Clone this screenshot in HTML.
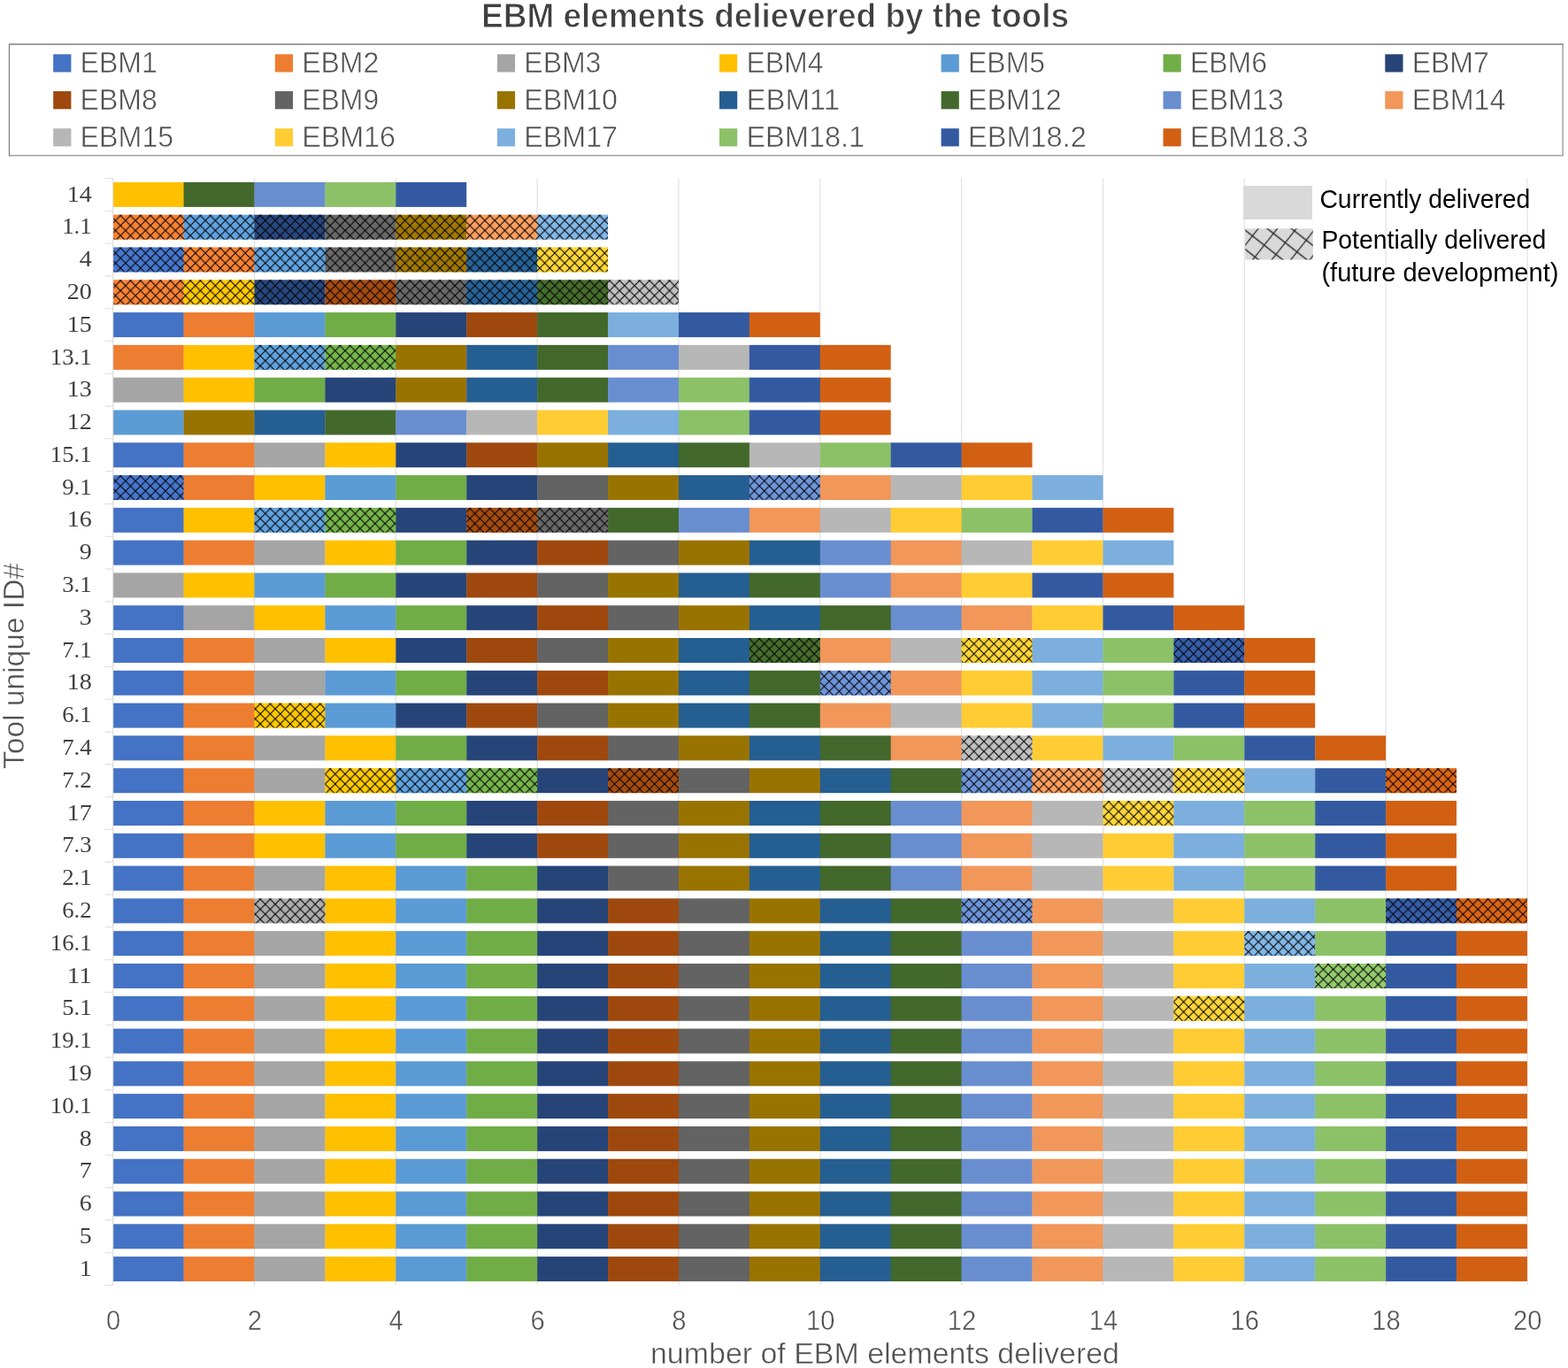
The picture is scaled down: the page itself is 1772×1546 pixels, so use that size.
<!DOCTYPE html>
<html lang="en"><head><meta charset="utf-8">
<title>EBM elements delievered by the tools</title>
<style>
html,body{margin:0;padding:0;background:#fff;}
body{width:1772px;height:1546px;overflow:hidden;}
svg{display:block;}
text{font-family:'Liberation Sans', Arial, sans-serif;}
.ser{font-family:'Liberation Serif', 'Times New Roman', serif;}
</style></head><body>
<svg width="1772" height="1546" viewBox="0 0 1772 1546">
<defs>
<pattern id="hx" patternUnits="userSpaceOnUse" width="11.28" height="11.28" patternTransform="translate(8.54 0.9)">
<path d="M0 0L11.28 11.28M11.28 0L0 11.28" stroke="#000" stroke-width="1.1" stroke-linecap="square" fill="none"/>
</pattern>
<pattern id="hx2" patternUnits="userSpaceOnUse" width="16.9" height="16.9" patternTransform="translate(1428.7 277.1) rotate(38.2) translate(-8.45 -8.45)">
<path d="M0 8.45H16.9M8.45 0V16.9" stroke="#2b2b2b" stroke-width="1.3" fill="none"/>
</pattern>
</defs>
<rect width="1772" height="1546" fill="#fff"/>
<text x="876" y="31.1" text-anchor="middle" font-size="39" font-weight="700" fill="#404040" stroke="#fff" stroke-width="0.9" textLength="664" lengthAdjust="spacingAndGlyphs">EBM elements delievered by the tools</text>
<path d="M10.5 175.8H1766.1V50" fill="none" stroke="#A3A3A3" stroke-width="1.5"/>
<path d="M10.5 176.4V50H1766.8" fill="none" stroke="#7F7F7F" stroke-width="1.3"/>
<rect x="60.2" y="61.3" width="20.2" height="20.2" fill="#4472C4"/>
<text x="90.6" y="82.0" font-size="34" fill="#505050" stroke="#fff" stroke-width="0.55" textLength="87.1" lengthAdjust="spacingAndGlyphs">EBM1</text>
<rect x="310.8" y="61.3" width="20.2" height="20.2" fill="#ED7D31"/>
<text x="341.2" y="82.0" font-size="34" fill="#505050" stroke="#fff" stroke-width="0.55" textLength="87.1" lengthAdjust="spacingAndGlyphs">EBM2</text>
<rect x="561.9" y="61.3" width="20.2" height="20.2" fill="#A5A5A5"/>
<text x="592.3" y="82.0" font-size="34" fill="#505050" stroke="#fff" stroke-width="0.55" textLength="87.1" lengthAdjust="spacingAndGlyphs">EBM3</text>
<rect x="813.0" y="61.3" width="20.2" height="20.2" fill="#FFC000"/>
<text x="843.4" y="82.0" font-size="34" fill="#505050" stroke="#fff" stroke-width="0.55" textLength="87.1" lengthAdjust="spacingAndGlyphs">EBM4</text>
<rect x="1063.6" y="61.3" width="20.2" height="20.2" fill="#5B9BD5"/>
<text x="1094.0" y="82.0" font-size="34" fill="#505050" stroke="#fff" stroke-width="0.55" textLength="87.1" lengthAdjust="spacingAndGlyphs">EBM5</text>
<rect x="1314.5" y="61.3" width="20.2" height="20.2" fill="#70AD47"/>
<text x="1344.9" y="82.0" font-size="34" fill="#505050" stroke="#fff" stroke-width="0.55" textLength="87.1" lengthAdjust="spacingAndGlyphs">EBM6</text>
<rect x="1565.3" y="61.3" width="20.2" height="20.2" fill="#264478"/>
<text x="1595.7" y="82.0" font-size="34" fill="#505050" stroke="#fff" stroke-width="0.55" textLength="87.1" lengthAdjust="spacingAndGlyphs">EBM7</text>
<rect x="60.2" y="103.1" width="20.2" height="20.2" fill="#9E480E"/>
<text x="90.6" y="123.8" font-size="34" fill="#505050" stroke="#fff" stroke-width="0.55" textLength="87.1" lengthAdjust="spacingAndGlyphs">EBM8</text>
<rect x="310.8" y="103.1" width="20.2" height="20.2" fill="#636363"/>
<text x="341.2" y="123.8" font-size="34" fill="#505050" stroke="#fff" stroke-width="0.55" textLength="87.1" lengthAdjust="spacingAndGlyphs">EBM9</text>
<rect x="561.9" y="103.1" width="20.2" height="20.2" fill="#997300"/>
<text x="592.3" y="123.8" font-size="34" fill="#505050" stroke="#fff" stroke-width="0.55" textLength="105.7" lengthAdjust="spacingAndGlyphs">EBM10</text>
<rect x="813.0" y="103.1" width="20.2" height="20.2" fill="#255E91"/>
<text x="843.4" y="123.8" font-size="34" fill="#505050" stroke="#fff" stroke-width="0.55" textLength="105.7" lengthAdjust="spacingAndGlyphs">EBM11</text>
<rect x="1063.6" y="103.1" width="20.2" height="20.2" fill="#43682B"/>
<text x="1094.0" y="123.8" font-size="34" fill="#505050" stroke="#fff" stroke-width="0.55" textLength="105.7" lengthAdjust="spacingAndGlyphs">EBM12</text>
<rect x="1314.5" y="103.1" width="20.2" height="20.2" fill="#698ED0"/>
<text x="1344.9" y="123.8" font-size="34" fill="#505050" stroke="#fff" stroke-width="0.55" textLength="105.7" lengthAdjust="spacingAndGlyphs">EBM13</text>
<rect x="1565.3" y="103.1" width="20.2" height="20.2" fill="#F1975A"/>
<text x="1595.7" y="123.8" font-size="34" fill="#505050" stroke="#fff" stroke-width="0.55" textLength="105.7" lengthAdjust="spacingAndGlyphs">EBM14</text>
<rect x="60.2" y="145.2" width="20.2" height="20.2" fill="#B7B7B7"/>
<text x="90.6" y="165.9" font-size="34" fill="#505050" stroke="#fff" stroke-width="0.55" textLength="105.7" lengthAdjust="spacingAndGlyphs">EBM15</text>
<rect x="310.8" y="145.2" width="20.2" height="20.2" fill="#FFCD33"/>
<text x="341.2" y="165.9" font-size="34" fill="#505050" stroke="#fff" stroke-width="0.55" textLength="105.7" lengthAdjust="spacingAndGlyphs">EBM16</text>
<rect x="561.9" y="145.2" width="20.2" height="20.2" fill="#7CAFDD"/>
<text x="592.3" y="165.9" font-size="34" fill="#505050" stroke="#fff" stroke-width="0.55" textLength="105.7" lengthAdjust="spacingAndGlyphs">EBM17</text>
<rect x="813.0" y="145.2" width="20.2" height="20.2" fill="#8CC168"/>
<text x="843.4" y="165.9" font-size="34" fill="#505050" stroke="#fff" stroke-width="0.55" textLength="133.8" lengthAdjust="spacingAndGlyphs">EBM18.1</text>
<rect x="1063.6" y="145.2" width="20.2" height="20.2" fill="#335AA1"/>
<text x="1094.0" y="165.9" font-size="34" fill="#505050" stroke="#fff" stroke-width="0.55" textLength="133.8" lengthAdjust="spacingAndGlyphs">EBM18.2</text>
<rect x="1314.5" y="145.2" width="20.2" height="20.2" fill="#D26012"/>
<text x="1344.9" y="165.9" font-size="34" fill="#505050" stroke="#fff" stroke-width="0.55" textLength="133.8" lengthAdjust="spacingAndGlyphs">EBM18.3</text>
<line x1="127.65" y1="201.5" x2="127.65" y2="1452.5" stroke="#E0E0E0" stroke-width="1.15"/>
<line x1="287.48" y1="201.5" x2="287.48" y2="1452.5" stroke="#E0E0E0" stroke-width="1.15"/>
<line x1="447.31" y1="201.5" x2="447.31" y2="1452.5" stroke="#E0E0E0" stroke-width="1.15"/>
<line x1="607.14" y1="201.5" x2="607.14" y2="1452.5" stroke="#E0E0E0" stroke-width="1.15"/>
<line x1="766.97" y1="201.5" x2="766.97" y2="1452.5" stroke="#E0E0E0" stroke-width="1.15"/>
<line x1="926.80" y1="201.5" x2="926.80" y2="1452.5" stroke="#E0E0E0" stroke-width="1.15"/>
<line x1="1086.63" y1="201.5" x2="1086.63" y2="1452.5" stroke="#E0E0E0" stroke-width="1.15"/>
<line x1="1246.46" y1="201.5" x2="1246.46" y2="1452.5" stroke="#E0E0E0" stroke-width="1.15"/>
<line x1="1406.29" y1="201.5" x2="1406.29" y2="1452.5" stroke="#E0E0E0" stroke-width="1.15"/>
<line x1="1566.12" y1="201.5" x2="1566.12" y2="1452.5" stroke="#E0E0E0" stroke-width="1.15"/>
<line x1="1725.95" y1="201.5" x2="1725.95" y2="1452.5" stroke="#E0E0E0" stroke-width="1.15"/>
<line x1="118.7" y1="201.50" x2="127.7" y2="201.50" stroke="#E0E0E0" stroke-width="1.15"/>
<line x1="118.7" y1="238.29" x2="127.7" y2="238.29" stroke="#E0E0E0" stroke-width="1.15"/>
<line x1="118.7" y1="275.09" x2="127.7" y2="275.09" stroke="#E0E0E0" stroke-width="1.15"/>
<line x1="118.7" y1="311.88" x2="127.7" y2="311.88" stroke="#E0E0E0" stroke-width="1.15"/>
<line x1="118.7" y1="348.68" x2="127.7" y2="348.68" stroke="#E0E0E0" stroke-width="1.15"/>
<line x1="118.7" y1="385.47" x2="127.7" y2="385.47" stroke="#E0E0E0" stroke-width="1.15"/>
<line x1="118.7" y1="422.26" x2="127.7" y2="422.26" stroke="#E0E0E0" stroke-width="1.15"/>
<line x1="118.7" y1="459.06" x2="127.7" y2="459.06" stroke="#E0E0E0" stroke-width="1.15"/>
<line x1="118.7" y1="495.85" x2="127.7" y2="495.85" stroke="#E0E0E0" stroke-width="1.15"/>
<line x1="118.7" y1="532.65" x2="127.7" y2="532.65" stroke="#E0E0E0" stroke-width="1.15"/>
<line x1="118.7" y1="569.44" x2="127.7" y2="569.44" stroke="#E0E0E0" stroke-width="1.15"/>
<line x1="118.7" y1="606.24" x2="127.7" y2="606.24" stroke="#E0E0E0" stroke-width="1.15"/>
<line x1="118.7" y1="643.03" x2="127.7" y2="643.03" stroke="#E0E0E0" stroke-width="1.15"/>
<line x1="118.7" y1="679.82" x2="127.7" y2="679.82" stroke="#E0E0E0" stroke-width="1.15"/>
<line x1="118.7" y1="716.62" x2="127.7" y2="716.62" stroke="#E0E0E0" stroke-width="1.15"/>
<line x1="118.7" y1="753.41" x2="127.7" y2="753.41" stroke="#E0E0E0" stroke-width="1.15"/>
<line x1="118.7" y1="790.21" x2="127.7" y2="790.21" stroke="#E0E0E0" stroke-width="1.15"/>
<line x1="118.7" y1="827.00" x2="127.7" y2="827.00" stroke="#E0E0E0" stroke-width="1.15"/>
<line x1="118.7" y1="863.79" x2="127.7" y2="863.79" stroke="#E0E0E0" stroke-width="1.15"/>
<line x1="118.7" y1="900.59" x2="127.7" y2="900.59" stroke="#E0E0E0" stroke-width="1.15"/>
<line x1="118.7" y1="937.38" x2="127.7" y2="937.38" stroke="#E0E0E0" stroke-width="1.15"/>
<line x1="118.7" y1="974.18" x2="127.7" y2="974.18" stroke="#E0E0E0" stroke-width="1.15"/>
<line x1="118.7" y1="1010.97" x2="127.7" y2="1010.97" stroke="#E0E0E0" stroke-width="1.15"/>
<line x1="118.7" y1="1047.76" x2="127.7" y2="1047.76" stroke="#E0E0E0" stroke-width="1.15"/>
<line x1="118.7" y1="1084.56" x2="127.7" y2="1084.56" stroke="#E0E0E0" stroke-width="1.15"/>
<line x1="118.7" y1="1121.35" x2="127.7" y2="1121.35" stroke="#E0E0E0" stroke-width="1.15"/>
<line x1="118.7" y1="1158.15" x2="127.7" y2="1158.15" stroke="#E0E0E0" stroke-width="1.15"/>
<line x1="118.7" y1="1194.94" x2="127.7" y2="1194.94" stroke="#E0E0E0" stroke-width="1.15"/>
<line x1="118.7" y1="1231.74" x2="127.7" y2="1231.74" stroke="#E0E0E0" stroke-width="1.15"/>
<line x1="118.7" y1="1268.53" x2="127.7" y2="1268.53" stroke="#E0E0E0" stroke-width="1.15"/>
<line x1="118.7" y1="1305.32" x2="127.7" y2="1305.32" stroke="#E0E0E0" stroke-width="1.15"/>
<line x1="118.7" y1="1342.12" x2="127.7" y2="1342.12" stroke="#E0E0E0" stroke-width="1.15"/>
<line x1="118.7" y1="1378.91" x2="127.7" y2="1378.91" stroke="#E0E0E0" stroke-width="1.15"/>
<line x1="118.7" y1="1415.71" x2="127.7" y2="1415.71" stroke="#E0E0E0" stroke-width="1.15"/>
<line x1="118.7" y1="1452.50" x2="127.7" y2="1452.50" stroke="#E0E0E0" stroke-width="1.15"/>
<g transform="translate(127.65 205.90)">
<rect x="0.00" y="0" width="80.21" height="28.0" fill="#FFC000"/>
<rect x="79.91" y="0" width="80.21" height="28.0" fill="#43682B"/>
<rect x="159.83" y="0" width="80.21" height="28.0" fill="#698ED0"/>
<rect x="239.74" y="0" width="80.21" height="28.0" fill="#8CC168"/>
<rect x="319.66" y="0" width="79.91" height="28.0" fill="#335AA1"/>
</g>
<text class="ser" x="75.7" y="227.5" font-size="25.5" fill="#404040" textLength="28.1" lengthAdjust="spacingAndGlyphs">14</text>
<g transform="translate(127.65 242.69)">
<rect x="0.00" y="0" width="80.21" height="28.0" fill="#F98333"/>
<rect x="79.91" y="0" width="80.21" height="28.0" fill="#60A3E0"/>
<rect x="159.83" y="0" width="80.21" height="28.0" fill="#28477E"/>
<rect x="239.74" y="0" width="80.21" height="28.0" fill="#686868"/>
<rect x="319.66" y="0" width="80.21" height="28.0" fill="#A17900"/>
<rect x="399.57" y="0" width="80.21" height="28.0" fill="#FD9F5E"/>
<rect x="479.49" y="0" width="79.91" height="28.0" fill="#82B8E8"/>
<rect x="0.00" y="0" width="559.40" height="28.0" fill="url(#hx)"/>
</g>
<text class="ser" x="70.2" y="264.3" font-size="25.5" fill="#404040" textLength="33.5" lengthAdjust="spacingAndGlyphs">1.1</text>
<g transform="translate(127.65 279.49)">
<rect x="0.00" y="0" width="80.21" height="28.0" fill="#4778CE"/>
<rect x="79.91" y="0" width="80.21" height="28.0" fill="#F98333"/>
<rect x="159.83" y="0" width="80.21" height="28.0" fill="#60A3E0"/>
<rect x="239.74" y="0" width="80.21" height="28.0" fill="#686868"/>
<rect x="319.66" y="0" width="80.21" height="28.0" fill="#A17900"/>
<rect x="399.57" y="0" width="80.21" height="28.0" fill="#276398"/>
<rect x="479.49" y="0" width="79.91" height="28.0" fill="#FFD736"/>
<rect x="0.00" y="0" width="559.40" height="28.0" fill="url(#hx)"/>
</g>
<text class="ser" x="89.7" y="301.1" font-size="25.5" fill="#404040" textLength="14.0" lengthAdjust="spacingAndGlyphs">4</text>
<g transform="translate(127.65 316.28)">
<rect x="0.00" y="0" width="80.21" height="28.0" fill="#F98333"/>
<rect x="79.91" y="0" width="80.21" height="28.0" fill="#FFCA00"/>
<rect x="159.83" y="0" width="80.21" height="28.0" fill="#28477E"/>
<rect x="239.74" y="0" width="80.21" height="28.0" fill="#A64C0F"/>
<rect x="319.66" y="0" width="80.21" height="28.0" fill="#686868"/>
<rect x="399.57" y="0" width="80.21" height="28.0" fill="#276398"/>
<rect x="479.49" y="0" width="80.21" height="28.0" fill="#466D2D"/>
<rect x="559.40" y="0" width="79.91" height="28.0" fill="#C0C0C0"/>
<rect x="0.00" y="0" width="639.32" height="28.0" fill="url(#hx)"/>
</g>
<text class="ser" x="75.7" y="337.9" font-size="25.5" fill="#404040" textLength="28.1" lengthAdjust="spacingAndGlyphs">20</text>
<g transform="translate(127.65 353.07)">
<rect x="0.00" y="0" width="80.21" height="28.0" fill="#4472C4"/>
<rect x="79.91" y="0" width="80.21" height="28.0" fill="#ED7D31"/>
<rect x="159.83" y="0" width="80.21" height="28.0" fill="#5B9BD5"/>
<rect x="239.74" y="0" width="80.21" height="28.0" fill="#70AD47"/>
<rect x="319.66" y="0" width="80.21" height="28.0" fill="#264478"/>
<rect x="399.57" y="0" width="80.21" height="28.0" fill="#9E480E"/>
<rect x="479.49" y="0" width="80.21" height="28.0" fill="#43682B"/>
<rect x="559.40" y="0" width="80.21" height="28.0" fill="#7CAFDD"/>
<rect x="639.32" y="0" width="80.21" height="28.0" fill="#335AA1"/>
<rect x="719.23" y="0" width="79.91" height="28.0" fill="#D26012"/>
</g>
<text class="ser" x="75.7" y="374.7" font-size="25.5" fill="#404040" textLength="28.1" lengthAdjust="spacingAndGlyphs">15</text>
<g transform="translate(127.65 389.87)">
<rect x="0.00" y="0" width="80.21" height="28.0" fill="#ED7D31"/>
<rect x="79.91" y="0" width="80.21" height="28.0" fill="#FFC000"/>
<rect x="159.83" y="0" width="80.21" height="28.0" fill="#60A3E0"/>
<rect x="239.74" y="0" width="80.21" height="28.0" fill="#76B64B"/>
<rect x="319.66" y="0" width="80.21" height="28.0" fill="#997300"/>
<rect x="399.57" y="0" width="80.21" height="28.0" fill="#255E91"/>
<rect x="479.49" y="0" width="80.21" height="28.0" fill="#43682B"/>
<rect x="559.40" y="0" width="80.21" height="28.0" fill="#698ED0"/>
<rect x="639.32" y="0" width="80.21" height="28.0" fill="#B7B7B7"/>
<rect x="719.23" y="0" width="80.21" height="28.0" fill="#335AA1"/>
<rect x="799.15" y="0" width="79.91" height="28.0" fill="#D26012"/>
<rect x="159.83" y="0" width="159.83" height="28.0" fill="url(#hx)"/>
</g>
<text class="ser" x="56.8" y="411.5" font-size="25.5" fill="#404040" textLength="46.9" lengthAdjust="spacingAndGlyphs">13.1</text>
<g transform="translate(127.65 426.66)">
<rect x="0.00" y="0" width="80.21" height="28.0" fill="#A5A5A5"/>
<rect x="79.91" y="0" width="80.21" height="28.0" fill="#FFC000"/>
<rect x="159.83" y="0" width="80.21" height="28.0" fill="#70AD47"/>
<rect x="239.74" y="0" width="80.21" height="28.0" fill="#264478"/>
<rect x="319.66" y="0" width="80.21" height="28.0" fill="#997300"/>
<rect x="399.57" y="0" width="80.21" height="28.0" fill="#255E91"/>
<rect x="479.49" y="0" width="80.21" height="28.0" fill="#43682B"/>
<rect x="559.40" y="0" width="80.21" height="28.0" fill="#698ED0"/>
<rect x="639.32" y="0" width="80.21" height="28.0" fill="#8CC168"/>
<rect x="719.23" y="0" width="80.21" height="28.0" fill="#335AA1"/>
<rect x="799.15" y="0" width="79.91" height="28.0" fill="#D26012"/>
</g>
<text class="ser" x="75.7" y="448.3" font-size="25.5" fill="#404040" textLength="28.1" lengthAdjust="spacingAndGlyphs">13</text>
<g transform="translate(127.65 463.46)">
<rect x="0.00" y="0" width="80.21" height="28.0" fill="#5B9BD5"/>
<rect x="79.91" y="0" width="80.21" height="28.0" fill="#997300"/>
<rect x="159.83" y="0" width="80.21" height="28.0" fill="#255E91"/>
<rect x="239.74" y="0" width="80.21" height="28.0" fill="#43682B"/>
<rect x="319.66" y="0" width="80.21" height="28.0" fill="#698ED0"/>
<rect x="399.57" y="0" width="80.21" height="28.0" fill="#B7B7B7"/>
<rect x="479.49" y="0" width="80.21" height="28.0" fill="#FFCD33"/>
<rect x="559.40" y="0" width="80.21" height="28.0" fill="#7CAFDD"/>
<rect x="639.32" y="0" width="80.21" height="28.0" fill="#8CC168"/>
<rect x="719.23" y="0" width="80.21" height="28.0" fill="#335AA1"/>
<rect x="799.15" y="0" width="79.91" height="28.0" fill="#D26012"/>
</g>
<text class="ser" x="75.7" y="485.1" font-size="25.5" fill="#404040" textLength="28.1" lengthAdjust="spacingAndGlyphs">12</text>
<g transform="translate(127.65 500.25)">
<rect x="0.00" y="0" width="80.21" height="28.0" fill="#4472C4"/>
<rect x="79.91" y="0" width="80.21" height="28.0" fill="#ED7D31"/>
<rect x="159.83" y="0" width="80.21" height="28.0" fill="#A5A5A5"/>
<rect x="239.74" y="0" width="80.21" height="28.0" fill="#FFC000"/>
<rect x="319.66" y="0" width="80.21" height="28.0" fill="#264478"/>
<rect x="399.57" y="0" width="80.21" height="28.0" fill="#9E480E"/>
<rect x="479.49" y="0" width="80.21" height="28.0" fill="#997300"/>
<rect x="559.40" y="0" width="80.21" height="28.0" fill="#255E91"/>
<rect x="639.32" y="0" width="80.21" height="28.0" fill="#43682B"/>
<rect x="719.23" y="0" width="80.21" height="28.0" fill="#B7B7B7"/>
<rect x="799.15" y="0" width="80.21" height="28.0" fill="#8CC168"/>
<rect x="879.06" y="0" width="80.21" height="28.0" fill="#335AA1"/>
<rect x="958.98" y="0" width="79.91" height="28.0" fill="#D26012"/>
</g>
<text class="ser" x="56.8" y="521.9" font-size="25.5" fill="#404040" textLength="46.9" lengthAdjust="spacingAndGlyphs">15.1</text>
<g transform="translate(127.65 537.04)">
<rect x="0.00" y="0" width="80.21" height="28.0" fill="#4778CE"/>
<rect x="79.91" y="0" width="80.21" height="28.0" fill="#ED7D31"/>
<rect x="159.83" y="0" width="80.21" height="28.0" fill="#FFC000"/>
<rect x="239.74" y="0" width="80.21" height="28.0" fill="#5B9BD5"/>
<rect x="319.66" y="0" width="80.21" height="28.0" fill="#70AD47"/>
<rect x="399.57" y="0" width="80.21" height="28.0" fill="#264478"/>
<rect x="479.49" y="0" width="80.21" height="28.0" fill="#636363"/>
<rect x="559.40" y="0" width="80.21" height="28.0" fill="#997300"/>
<rect x="639.32" y="0" width="80.21" height="28.0" fill="#255E91"/>
<rect x="719.23" y="0" width="80.21" height="28.0" fill="#6E95DA"/>
<rect x="799.15" y="0" width="80.21" height="28.0" fill="#F1975A"/>
<rect x="879.06" y="0" width="80.21" height="28.0" fill="#B7B7B7"/>
<rect x="958.98" y="0" width="80.21" height="28.0" fill="#FFCD33"/>
<rect x="1038.89" y="0" width="79.91" height="28.0" fill="#7CAFDD"/>
<rect x="0.00" y="0" width="79.91" height="28.0" fill="url(#hx)"/>
<rect x="719.23" y="0" width="79.91" height="28.0" fill="url(#hx)"/>
</g>
<text class="ser" x="70.2" y="558.6" font-size="25.5" fill="#404040" textLength="33.5" lengthAdjust="spacingAndGlyphs">9.1</text>
<g transform="translate(127.65 573.84)">
<rect x="0.00" y="0" width="80.21" height="28.0" fill="#4472C4"/>
<rect x="79.91" y="0" width="80.21" height="28.0" fill="#FFC000"/>
<rect x="159.83" y="0" width="80.21" height="28.0" fill="#60A3E0"/>
<rect x="239.74" y="0" width="80.21" height="28.0" fill="#76B64B"/>
<rect x="319.66" y="0" width="80.21" height="28.0" fill="#264478"/>
<rect x="399.57" y="0" width="80.21" height="28.0" fill="#A64C0F"/>
<rect x="479.49" y="0" width="80.21" height="28.0" fill="#686868"/>
<rect x="559.40" y="0" width="80.21" height="28.0" fill="#43682B"/>
<rect x="639.32" y="0" width="80.21" height="28.0" fill="#698ED0"/>
<rect x="719.23" y="0" width="80.21" height="28.0" fill="#F1975A"/>
<rect x="799.15" y="0" width="80.21" height="28.0" fill="#B7B7B7"/>
<rect x="879.06" y="0" width="80.21" height="28.0" fill="#FFCD33"/>
<rect x="958.98" y="0" width="80.21" height="28.0" fill="#8CC168"/>
<rect x="1038.89" y="0" width="80.21" height="28.0" fill="#335AA1"/>
<rect x="1118.81" y="0" width="79.91" height="28.0" fill="#D26012"/>
<rect x="159.83" y="0" width="159.83" height="28.0" fill="url(#hx)"/>
<rect x="399.57" y="0" width="159.83" height="28.0" fill="url(#hx)"/>
</g>
<text class="ser" x="75.7" y="595.4" font-size="25.5" fill="#404040" textLength="28.1" lengthAdjust="spacingAndGlyphs">16</text>
<g transform="translate(127.65 610.63)">
<rect x="0.00" y="0" width="80.21" height="28.0" fill="#4472C4"/>
<rect x="79.91" y="0" width="80.21" height="28.0" fill="#ED7D31"/>
<rect x="159.83" y="0" width="80.21" height="28.0" fill="#A5A5A5"/>
<rect x="239.74" y="0" width="80.21" height="28.0" fill="#FFC000"/>
<rect x="319.66" y="0" width="80.21" height="28.0" fill="#70AD47"/>
<rect x="399.57" y="0" width="80.21" height="28.0" fill="#264478"/>
<rect x="479.49" y="0" width="80.21" height="28.0" fill="#9E480E"/>
<rect x="559.40" y="0" width="80.21" height="28.0" fill="#636363"/>
<rect x="639.32" y="0" width="80.21" height="28.0" fill="#997300"/>
<rect x="719.23" y="0" width="80.21" height="28.0" fill="#255E91"/>
<rect x="799.15" y="0" width="80.21" height="28.0" fill="#698ED0"/>
<rect x="879.06" y="0" width="80.21" height="28.0" fill="#F1975A"/>
<rect x="958.98" y="0" width="80.21" height="28.0" fill="#B7B7B7"/>
<rect x="1038.89" y="0" width="80.21" height="28.0" fill="#FFCD33"/>
<rect x="1118.81" y="0" width="79.91" height="28.0" fill="#7CAFDD"/>
</g>
<text class="ser" x="89.7" y="632.2" font-size="25.5" fill="#404040" textLength="14.0" lengthAdjust="spacingAndGlyphs">9</text>
<g transform="translate(127.65 647.43)">
<rect x="0.00" y="0" width="80.21" height="28.0" fill="#A5A5A5"/>
<rect x="79.91" y="0" width="80.21" height="28.0" fill="#FFC000"/>
<rect x="159.83" y="0" width="80.21" height="28.0" fill="#5B9BD5"/>
<rect x="239.74" y="0" width="80.21" height="28.0" fill="#70AD47"/>
<rect x="319.66" y="0" width="80.21" height="28.0" fill="#264478"/>
<rect x="399.57" y="0" width="80.21" height="28.0" fill="#9E480E"/>
<rect x="479.49" y="0" width="80.21" height="28.0" fill="#636363"/>
<rect x="559.40" y="0" width="80.21" height="28.0" fill="#997300"/>
<rect x="639.32" y="0" width="80.21" height="28.0" fill="#255E91"/>
<rect x="719.23" y="0" width="80.21" height="28.0" fill="#43682B"/>
<rect x="799.15" y="0" width="80.21" height="28.0" fill="#698ED0"/>
<rect x="879.06" y="0" width="80.21" height="28.0" fill="#F1975A"/>
<rect x="958.98" y="0" width="80.21" height="28.0" fill="#FFCD33"/>
<rect x="1038.89" y="0" width="80.21" height="28.0" fill="#335AA1"/>
<rect x="1118.81" y="0" width="79.91" height="28.0" fill="#D26012"/>
</g>
<text class="ser" x="70.2" y="669.0" font-size="25.5" fill="#404040" textLength="33.5" lengthAdjust="spacingAndGlyphs">3.1</text>
<g transform="translate(127.65 684.22)">
<rect x="0.00" y="0" width="80.21" height="28.0" fill="#4472C4"/>
<rect x="79.91" y="0" width="80.21" height="28.0" fill="#A5A5A5"/>
<rect x="159.83" y="0" width="80.21" height="28.0" fill="#FFC000"/>
<rect x="239.74" y="0" width="80.21" height="28.0" fill="#5B9BD5"/>
<rect x="319.66" y="0" width="80.21" height="28.0" fill="#70AD47"/>
<rect x="399.57" y="0" width="80.21" height="28.0" fill="#264478"/>
<rect x="479.49" y="0" width="80.21" height="28.0" fill="#9E480E"/>
<rect x="559.40" y="0" width="80.21" height="28.0" fill="#636363"/>
<rect x="639.32" y="0" width="80.21" height="28.0" fill="#997300"/>
<rect x="719.23" y="0" width="80.21" height="28.0" fill="#255E91"/>
<rect x="799.15" y="0" width="80.21" height="28.0" fill="#43682B"/>
<rect x="879.06" y="0" width="80.21" height="28.0" fill="#698ED0"/>
<rect x="958.98" y="0" width="80.21" height="28.0" fill="#F1975A"/>
<rect x="1038.89" y="0" width="80.21" height="28.0" fill="#FFCD33"/>
<rect x="1118.81" y="0" width="80.21" height="28.0" fill="#335AA1"/>
<rect x="1198.72" y="0" width="79.91" height="28.0" fill="#D26012"/>
</g>
<text class="ser" x="89.7" y="705.8" font-size="25.5" fill="#404040" textLength="14.0" lengthAdjust="spacingAndGlyphs">3</text>
<g transform="translate(127.65 721.01)">
<rect x="0.00" y="0" width="80.21" height="28.0" fill="#4472C4"/>
<rect x="79.91" y="0" width="80.21" height="28.0" fill="#ED7D31"/>
<rect x="159.83" y="0" width="80.21" height="28.0" fill="#A5A5A5"/>
<rect x="239.74" y="0" width="80.21" height="28.0" fill="#FFC000"/>
<rect x="319.66" y="0" width="80.21" height="28.0" fill="#264478"/>
<rect x="399.57" y="0" width="80.21" height="28.0" fill="#9E480E"/>
<rect x="479.49" y="0" width="80.21" height="28.0" fill="#636363"/>
<rect x="559.40" y="0" width="80.21" height="28.0" fill="#997300"/>
<rect x="639.32" y="0" width="80.21" height="28.0" fill="#255E91"/>
<rect x="719.23" y="0" width="80.21" height="28.0" fill="#466D2D"/>
<rect x="799.15" y="0" width="80.21" height="28.0" fill="#F1975A"/>
<rect x="879.06" y="0" width="80.21" height="28.0" fill="#B7B7B7"/>
<rect x="958.98" y="0" width="80.21" height="28.0" fill="#FFD736"/>
<rect x="1038.89" y="0" width="80.21" height="28.0" fill="#7CAFDD"/>
<rect x="1118.81" y="0" width="80.21" height="28.0" fill="#8CC168"/>
<rect x="1198.72" y="0" width="80.21" height="28.0" fill="#365EA9"/>
<rect x="1278.64" y="0" width="79.91" height="28.0" fill="#D26012"/>
<rect x="719.23" y="0" width="79.91" height="28.0" fill="url(#hx)"/>
<rect x="958.98" y="0" width="79.91" height="28.0" fill="url(#hx)"/>
<rect x="1198.72" y="0" width="79.91" height="28.0" fill="url(#hx)"/>
</g>
<text class="ser" x="70.2" y="742.6" font-size="25.5" fill="#404040" textLength="33.5" lengthAdjust="spacingAndGlyphs">7.1</text>
<g transform="translate(127.65 757.81)">
<rect x="0.00" y="0" width="80.21" height="28.0" fill="#4472C4"/>
<rect x="79.91" y="0" width="80.21" height="28.0" fill="#ED7D31"/>
<rect x="159.83" y="0" width="80.21" height="28.0" fill="#A5A5A5"/>
<rect x="239.74" y="0" width="80.21" height="28.0" fill="#5B9BD5"/>
<rect x="319.66" y="0" width="80.21" height="28.0" fill="#70AD47"/>
<rect x="399.57" y="0" width="80.21" height="28.0" fill="#264478"/>
<rect x="479.49" y="0" width="80.21" height="28.0" fill="#9E480E"/>
<rect x="559.40" y="0" width="80.21" height="28.0" fill="#997300"/>
<rect x="639.32" y="0" width="80.21" height="28.0" fill="#255E91"/>
<rect x="719.23" y="0" width="80.21" height="28.0" fill="#43682B"/>
<rect x="799.15" y="0" width="80.21" height="28.0" fill="#6E95DA"/>
<rect x="879.06" y="0" width="80.21" height="28.0" fill="#F1975A"/>
<rect x="958.98" y="0" width="80.21" height="28.0" fill="#FFCD33"/>
<rect x="1038.89" y="0" width="80.21" height="28.0" fill="#7CAFDD"/>
<rect x="1118.81" y="0" width="80.21" height="28.0" fill="#8CC168"/>
<rect x="1198.72" y="0" width="80.21" height="28.0" fill="#335AA1"/>
<rect x="1278.64" y="0" width="79.91" height="28.0" fill="#D26012"/>
<rect x="799.15" y="0" width="79.91" height="28.0" fill="url(#hx)"/>
</g>
<text class="ser" x="75.7" y="779.4" font-size="25.5" fill="#404040" textLength="28.1" lengthAdjust="spacingAndGlyphs">18</text>
<g transform="translate(127.65 794.60)">
<rect x="0.00" y="0" width="80.21" height="28.0" fill="#4472C4"/>
<rect x="79.91" y="0" width="80.21" height="28.0" fill="#ED7D31"/>
<rect x="159.83" y="0" width="80.21" height="28.0" fill="#FFCA00"/>
<rect x="239.74" y="0" width="80.21" height="28.0" fill="#5B9BD5"/>
<rect x="319.66" y="0" width="80.21" height="28.0" fill="#264478"/>
<rect x="399.57" y="0" width="80.21" height="28.0" fill="#9E480E"/>
<rect x="479.49" y="0" width="80.21" height="28.0" fill="#636363"/>
<rect x="559.40" y="0" width="80.21" height="28.0" fill="#997300"/>
<rect x="639.32" y="0" width="80.21" height="28.0" fill="#255E91"/>
<rect x="719.23" y="0" width="80.21" height="28.0" fill="#43682B"/>
<rect x="799.15" y="0" width="80.21" height="28.0" fill="#F1975A"/>
<rect x="879.06" y="0" width="80.21" height="28.0" fill="#B7B7B7"/>
<rect x="958.98" y="0" width="80.21" height="28.0" fill="#FFCD33"/>
<rect x="1038.89" y="0" width="80.21" height="28.0" fill="#7CAFDD"/>
<rect x="1118.81" y="0" width="80.21" height="28.0" fill="#8CC168"/>
<rect x="1198.72" y="0" width="80.21" height="28.0" fill="#335AA1"/>
<rect x="1278.64" y="0" width="79.91" height="28.0" fill="#D26012"/>
<rect x="159.83" y="0" width="79.91" height="28.0" fill="url(#hx)"/>
</g>
<text class="ser" x="70.2" y="816.2" font-size="25.5" fill="#404040" textLength="33.5" lengthAdjust="spacingAndGlyphs">6.1</text>
<g transform="translate(127.65 831.40)">
<rect x="0.00" y="0" width="80.21" height="28.0" fill="#4472C4"/>
<rect x="79.91" y="0" width="80.21" height="28.0" fill="#ED7D31"/>
<rect x="159.83" y="0" width="80.21" height="28.0" fill="#A5A5A5"/>
<rect x="239.74" y="0" width="80.21" height="28.0" fill="#FFC000"/>
<rect x="319.66" y="0" width="80.21" height="28.0" fill="#70AD47"/>
<rect x="399.57" y="0" width="80.21" height="28.0" fill="#264478"/>
<rect x="479.49" y="0" width="80.21" height="28.0" fill="#9E480E"/>
<rect x="559.40" y="0" width="80.21" height="28.0" fill="#636363"/>
<rect x="639.32" y="0" width="80.21" height="28.0" fill="#997300"/>
<rect x="719.23" y="0" width="80.21" height="28.0" fill="#255E91"/>
<rect x="799.15" y="0" width="80.21" height="28.0" fill="#43682B"/>
<rect x="879.06" y="0" width="80.21" height="28.0" fill="#F1975A"/>
<rect x="958.98" y="0" width="80.21" height="28.0" fill="#C0C0C0"/>
<rect x="1038.89" y="0" width="80.21" height="28.0" fill="#FFCD33"/>
<rect x="1118.81" y="0" width="80.21" height="28.0" fill="#7CAFDD"/>
<rect x="1198.72" y="0" width="80.21" height="28.0" fill="#8CC168"/>
<rect x="1278.64" y="0" width="80.21" height="28.0" fill="#335AA1"/>
<rect x="1358.55" y="0" width="79.91" height="28.0" fill="#D26012"/>
<rect x="958.98" y="0" width="79.91" height="28.0" fill="url(#hx)"/>
</g>
<text class="ser" x="70.2" y="853.0" font-size="25.5" fill="#404040" textLength="33.5" lengthAdjust="spacingAndGlyphs">7.4</text>
<g transform="translate(127.65 868.19)">
<rect x="0.00" y="0" width="80.21" height="28.0" fill="#4472C4"/>
<rect x="79.91" y="0" width="80.21" height="28.0" fill="#ED7D31"/>
<rect x="159.83" y="0" width="80.21" height="28.0" fill="#A5A5A5"/>
<rect x="239.74" y="0" width="80.21" height="28.0" fill="#FFCA00"/>
<rect x="319.66" y="0" width="80.21" height="28.0" fill="#60A3E0"/>
<rect x="399.57" y="0" width="80.21" height="28.0" fill="#76B64B"/>
<rect x="479.49" y="0" width="80.21" height="28.0" fill="#264478"/>
<rect x="559.40" y="0" width="80.21" height="28.0" fill="#A64C0F"/>
<rect x="639.32" y="0" width="80.21" height="28.0" fill="#636363"/>
<rect x="719.23" y="0" width="80.21" height="28.0" fill="#997300"/>
<rect x="799.15" y="0" width="80.21" height="28.0" fill="#255E91"/>
<rect x="879.06" y="0" width="80.21" height="28.0" fill="#43682B"/>
<rect x="958.98" y="0" width="80.21" height="28.0" fill="#6E95DA"/>
<rect x="1038.89" y="0" width="80.21" height="28.0" fill="#FD9F5E"/>
<rect x="1118.81" y="0" width="80.21" height="28.0" fill="#C0C0C0"/>
<rect x="1198.72" y="0" width="80.21" height="28.0" fill="#FFD736"/>
<rect x="1278.64" y="0" width="80.21" height="28.0" fill="#7CAFDD"/>
<rect x="1358.55" y="0" width="80.21" height="28.0" fill="#335AA1"/>
<rect x="1438.47" y="0" width="79.91" height="28.0" fill="#DC6513"/>
<rect x="239.74" y="0" width="239.74" height="28.0" fill="url(#hx)"/>
<rect x="559.40" y="0" width="79.91" height="28.0" fill="url(#hx)"/>
<rect x="958.98" y="0" width="319.66" height="28.0" fill="url(#hx)"/>
<rect x="1438.47" y="0" width="79.91" height="28.0" fill="url(#hx)"/>
</g>
<text class="ser" x="70.2" y="889.8" font-size="25.5" fill="#404040" textLength="33.5" lengthAdjust="spacingAndGlyphs">7.2</text>
<g transform="translate(127.65 904.99)">
<rect x="0.00" y="0" width="80.21" height="28.0" fill="#4472C4"/>
<rect x="79.91" y="0" width="80.21" height="28.0" fill="#ED7D31"/>
<rect x="159.83" y="0" width="80.21" height="28.0" fill="#FFC000"/>
<rect x="239.74" y="0" width="80.21" height="28.0" fill="#5B9BD5"/>
<rect x="319.66" y="0" width="80.21" height="28.0" fill="#70AD47"/>
<rect x="399.57" y="0" width="80.21" height="28.0" fill="#264478"/>
<rect x="479.49" y="0" width="80.21" height="28.0" fill="#9E480E"/>
<rect x="559.40" y="0" width="80.21" height="28.0" fill="#636363"/>
<rect x="639.32" y="0" width="80.21" height="28.0" fill="#997300"/>
<rect x="719.23" y="0" width="80.21" height="28.0" fill="#255E91"/>
<rect x="799.15" y="0" width="80.21" height="28.0" fill="#43682B"/>
<rect x="879.06" y="0" width="80.21" height="28.0" fill="#698ED0"/>
<rect x="958.98" y="0" width="80.21" height="28.0" fill="#F1975A"/>
<rect x="1038.89" y="0" width="80.21" height="28.0" fill="#B7B7B7"/>
<rect x="1118.81" y="0" width="80.21" height="28.0" fill="#FFD736"/>
<rect x="1198.72" y="0" width="80.21" height="28.0" fill="#7CAFDD"/>
<rect x="1278.64" y="0" width="80.21" height="28.0" fill="#8CC168"/>
<rect x="1358.55" y="0" width="80.21" height="28.0" fill="#335AA1"/>
<rect x="1438.47" y="0" width="79.91" height="28.0" fill="#D26012"/>
<rect x="1118.81" y="0" width="79.91" height="28.0" fill="url(#hx)"/>
</g>
<text class="ser" x="75.7" y="926.6" font-size="25.5" fill="#404040" textLength="28.1" lengthAdjust="spacingAndGlyphs">17</text>
<g transform="translate(127.65 941.78)">
<rect x="0.00" y="0" width="80.21" height="28.0" fill="#4472C4"/>
<rect x="79.91" y="0" width="80.21" height="28.0" fill="#ED7D31"/>
<rect x="159.83" y="0" width="80.21" height="28.0" fill="#FFC000"/>
<rect x="239.74" y="0" width="80.21" height="28.0" fill="#5B9BD5"/>
<rect x="319.66" y="0" width="80.21" height="28.0" fill="#70AD47"/>
<rect x="399.57" y="0" width="80.21" height="28.0" fill="#264478"/>
<rect x="479.49" y="0" width="80.21" height="28.0" fill="#9E480E"/>
<rect x="559.40" y="0" width="80.21" height="28.0" fill="#636363"/>
<rect x="639.32" y="0" width="80.21" height="28.0" fill="#997300"/>
<rect x="719.23" y="0" width="80.21" height="28.0" fill="#255E91"/>
<rect x="799.15" y="0" width="80.21" height="28.0" fill="#43682B"/>
<rect x="879.06" y="0" width="80.21" height="28.0" fill="#698ED0"/>
<rect x="958.98" y="0" width="80.21" height="28.0" fill="#F1975A"/>
<rect x="1038.89" y="0" width="80.21" height="28.0" fill="#B7B7B7"/>
<rect x="1118.81" y="0" width="80.21" height="28.0" fill="#FFCD33"/>
<rect x="1198.72" y="0" width="80.21" height="28.0" fill="#7CAFDD"/>
<rect x="1278.64" y="0" width="80.21" height="28.0" fill="#8CC168"/>
<rect x="1358.55" y="0" width="80.21" height="28.0" fill="#335AA1"/>
<rect x="1438.47" y="0" width="79.91" height="28.0" fill="#D26012"/>
</g>
<text class="ser" x="70.2" y="963.4" font-size="25.5" fill="#404040" textLength="33.5" lengthAdjust="spacingAndGlyphs">7.3</text>
<g transform="translate(127.65 978.57)">
<rect x="0.00" y="0" width="80.21" height="28.0" fill="#4472C4"/>
<rect x="79.91" y="0" width="80.21" height="28.0" fill="#ED7D31"/>
<rect x="159.83" y="0" width="80.21" height="28.0" fill="#A5A5A5"/>
<rect x="239.74" y="0" width="80.21" height="28.0" fill="#FFC000"/>
<rect x="319.66" y="0" width="80.21" height="28.0" fill="#5B9BD5"/>
<rect x="399.57" y="0" width="80.21" height="28.0" fill="#70AD47"/>
<rect x="479.49" y="0" width="80.21" height="28.0" fill="#264478"/>
<rect x="559.40" y="0" width="80.21" height="28.0" fill="#636363"/>
<rect x="639.32" y="0" width="80.21" height="28.0" fill="#997300"/>
<rect x="719.23" y="0" width="80.21" height="28.0" fill="#255E91"/>
<rect x="799.15" y="0" width="80.21" height="28.0" fill="#43682B"/>
<rect x="879.06" y="0" width="80.21" height="28.0" fill="#698ED0"/>
<rect x="958.98" y="0" width="80.21" height="28.0" fill="#F1975A"/>
<rect x="1038.89" y="0" width="80.21" height="28.0" fill="#B7B7B7"/>
<rect x="1118.81" y="0" width="80.21" height="28.0" fill="#FFCD33"/>
<rect x="1198.72" y="0" width="80.21" height="28.0" fill="#7CAFDD"/>
<rect x="1278.64" y="0" width="80.21" height="28.0" fill="#8CC168"/>
<rect x="1358.55" y="0" width="80.21" height="28.0" fill="#335AA1"/>
<rect x="1438.47" y="0" width="79.91" height="28.0" fill="#D26012"/>
</g>
<text class="ser" x="70.2" y="1000.2" font-size="25.5" fill="#404040" textLength="33.5" lengthAdjust="spacingAndGlyphs">2.1</text>
<g transform="translate(127.65 1015.37)">
<rect x="0.00" y="0" width="80.21" height="28.0" fill="#4472C4"/>
<rect x="79.91" y="0" width="80.21" height="28.0" fill="#ED7D31"/>
<rect x="159.83" y="0" width="80.21" height="28.0" fill="#ADADAD"/>
<rect x="239.74" y="0" width="80.21" height="28.0" fill="#FFC000"/>
<rect x="319.66" y="0" width="80.21" height="28.0" fill="#5B9BD5"/>
<rect x="399.57" y="0" width="80.21" height="28.0" fill="#70AD47"/>
<rect x="479.49" y="0" width="80.21" height="28.0" fill="#264478"/>
<rect x="559.40" y="0" width="80.21" height="28.0" fill="#9E480E"/>
<rect x="639.32" y="0" width="80.21" height="28.0" fill="#636363"/>
<rect x="719.23" y="0" width="80.21" height="28.0" fill="#997300"/>
<rect x="799.15" y="0" width="80.21" height="28.0" fill="#255E91"/>
<rect x="879.06" y="0" width="80.21" height="28.0" fill="#43682B"/>
<rect x="958.98" y="0" width="80.21" height="28.0" fill="#6E95DA"/>
<rect x="1038.89" y="0" width="80.21" height="28.0" fill="#F1975A"/>
<rect x="1118.81" y="0" width="80.21" height="28.0" fill="#B7B7B7"/>
<rect x="1198.72" y="0" width="80.21" height="28.0" fill="#FFCD33"/>
<rect x="1278.64" y="0" width="80.21" height="28.0" fill="#7CAFDD"/>
<rect x="1358.55" y="0" width="80.21" height="28.0" fill="#8CC168"/>
<rect x="1438.47" y="0" width="80.21" height="28.0" fill="#365EA9"/>
<rect x="1518.38" y="0" width="79.91" height="28.0" fill="#DC6513"/>
<rect x="159.83" y="0" width="79.91" height="28.0" fill="url(#hx)"/>
<rect x="958.98" y="0" width="79.91" height="28.0" fill="url(#hx)"/>
<rect x="1438.47" y="0" width="159.83" height="28.0" fill="url(#hx)"/>
</g>
<text class="ser" x="70.2" y="1037.0" font-size="25.5" fill="#404040" textLength="33.5" lengthAdjust="spacingAndGlyphs">6.2</text>
<g transform="translate(127.65 1052.16)">
<rect x="0.00" y="0" width="80.21" height="28.0" fill="#4472C4"/>
<rect x="79.91" y="0" width="80.21" height="28.0" fill="#ED7D31"/>
<rect x="159.83" y="0" width="80.21" height="28.0" fill="#A5A5A5"/>
<rect x="239.74" y="0" width="80.21" height="28.0" fill="#FFC000"/>
<rect x="319.66" y="0" width="80.21" height="28.0" fill="#5B9BD5"/>
<rect x="399.57" y="0" width="80.21" height="28.0" fill="#70AD47"/>
<rect x="479.49" y="0" width="80.21" height="28.0" fill="#264478"/>
<rect x="559.40" y="0" width="80.21" height="28.0" fill="#9E480E"/>
<rect x="639.32" y="0" width="80.21" height="28.0" fill="#636363"/>
<rect x="719.23" y="0" width="80.21" height="28.0" fill="#997300"/>
<rect x="799.15" y="0" width="80.21" height="28.0" fill="#255E91"/>
<rect x="879.06" y="0" width="80.21" height="28.0" fill="#43682B"/>
<rect x="958.98" y="0" width="80.21" height="28.0" fill="#698ED0"/>
<rect x="1038.89" y="0" width="80.21" height="28.0" fill="#F1975A"/>
<rect x="1118.81" y="0" width="80.21" height="28.0" fill="#B7B7B7"/>
<rect x="1198.72" y="0" width="80.21" height="28.0" fill="#FFCD33"/>
<rect x="1278.64" y="0" width="80.21" height="28.0" fill="#82B8E8"/>
<rect x="1358.55" y="0" width="80.21" height="28.0" fill="#8CC168"/>
<rect x="1438.47" y="0" width="80.21" height="28.0" fill="#335AA1"/>
<rect x="1518.38" y="0" width="79.91" height="28.0" fill="#D26012"/>
<rect x="1278.64" y="0" width="79.91" height="28.0" fill="url(#hx)"/>
</g>
<text class="ser" x="56.8" y="1073.8" font-size="25.5" fill="#404040" textLength="46.9" lengthAdjust="spacingAndGlyphs">16.1</text>
<g transform="translate(127.65 1088.96)">
<rect x="0.00" y="0" width="80.21" height="28.0" fill="#4472C4"/>
<rect x="79.91" y="0" width="80.21" height="28.0" fill="#ED7D31"/>
<rect x="159.83" y="0" width="80.21" height="28.0" fill="#A5A5A5"/>
<rect x="239.74" y="0" width="80.21" height="28.0" fill="#FFC000"/>
<rect x="319.66" y="0" width="80.21" height="28.0" fill="#5B9BD5"/>
<rect x="399.57" y="0" width="80.21" height="28.0" fill="#70AD47"/>
<rect x="479.49" y="0" width="80.21" height="28.0" fill="#264478"/>
<rect x="559.40" y="0" width="80.21" height="28.0" fill="#9E480E"/>
<rect x="639.32" y="0" width="80.21" height="28.0" fill="#636363"/>
<rect x="719.23" y="0" width="80.21" height="28.0" fill="#997300"/>
<rect x="799.15" y="0" width="80.21" height="28.0" fill="#255E91"/>
<rect x="879.06" y="0" width="80.21" height="28.0" fill="#43682B"/>
<rect x="958.98" y="0" width="80.21" height="28.0" fill="#698ED0"/>
<rect x="1038.89" y="0" width="80.21" height="28.0" fill="#F1975A"/>
<rect x="1118.81" y="0" width="80.21" height="28.0" fill="#B7B7B7"/>
<rect x="1198.72" y="0" width="80.21" height="28.0" fill="#FFCD33"/>
<rect x="1278.64" y="0" width="80.21" height="28.0" fill="#7CAFDD"/>
<rect x="1358.55" y="0" width="80.21" height="28.0" fill="#93CB6D"/>
<rect x="1438.47" y="0" width="80.21" height="28.0" fill="#335AA1"/>
<rect x="1518.38" y="0" width="79.91" height="28.0" fill="#D26012"/>
<rect x="1358.55" y="0" width="79.91" height="28.0" fill="url(#hx)"/>
</g>
<text class="ser" x="75.7" y="1110.6" font-size="25.5" fill="#404040" textLength="28.1" lengthAdjust="spacingAndGlyphs">11</text>
<g transform="translate(127.65 1125.75)">
<rect x="0.00" y="0" width="80.21" height="28.0" fill="#4472C4"/>
<rect x="79.91" y="0" width="80.21" height="28.0" fill="#ED7D31"/>
<rect x="159.83" y="0" width="80.21" height="28.0" fill="#A5A5A5"/>
<rect x="239.74" y="0" width="80.21" height="28.0" fill="#FFC000"/>
<rect x="319.66" y="0" width="80.21" height="28.0" fill="#5B9BD5"/>
<rect x="399.57" y="0" width="80.21" height="28.0" fill="#70AD47"/>
<rect x="479.49" y="0" width="80.21" height="28.0" fill="#264478"/>
<rect x="559.40" y="0" width="80.21" height="28.0" fill="#9E480E"/>
<rect x="639.32" y="0" width="80.21" height="28.0" fill="#636363"/>
<rect x="719.23" y="0" width="80.21" height="28.0" fill="#997300"/>
<rect x="799.15" y="0" width="80.21" height="28.0" fill="#255E91"/>
<rect x="879.06" y="0" width="80.21" height="28.0" fill="#43682B"/>
<rect x="958.98" y="0" width="80.21" height="28.0" fill="#698ED0"/>
<rect x="1038.89" y="0" width="80.21" height="28.0" fill="#F1975A"/>
<rect x="1118.81" y="0" width="80.21" height="28.0" fill="#B7B7B7"/>
<rect x="1198.72" y="0" width="80.21" height="28.0" fill="#FFD736"/>
<rect x="1278.64" y="0" width="80.21" height="28.0" fill="#7CAFDD"/>
<rect x="1358.55" y="0" width="80.21" height="28.0" fill="#8CC168"/>
<rect x="1438.47" y="0" width="80.21" height="28.0" fill="#335AA1"/>
<rect x="1518.38" y="0" width="79.91" height="28.0" fill="#D26012"/>
<rect x="1198.72" y="0" width="79.91" height="28.0" fill="url(#hx)"/>
</g>
<text class="ser" x="70.2" y="1147.3" font-size="25.5" fill="#404040" textLength="33.5" lengthAdjust="spacingAndGlyphs">5.1</text>
<g transform="translate(127.65 1162.54)">
<rect x="0.00" y="0" width="80.21" height="28.0" fill="#4472C4"/>
<rect x="79.91" y="0" width="80.21" height="28.0" fill="#ED7D31"/>
<rect x="159.83" y="0" width="80.21" height="28.0" fill="#A5A5A5"/>
<rect x="239.74" y="0" width="80.21" height="28.0" fill="#FFC000"/>
<rect x="319.66" y="0" width="80.21" height="28.0" fill="#5B9BD5"/>
<rect x="399.57" y="0" width="80.21" height="28.0" fill="#70AD47"/>
<rect x="479.49" y="0" width="80.21" height="28.0" fill="#264478"/>
<rect x="559.40" y="0" width="80.21" height="28.0" fill="#9E480E"/>
<rect x="639.32" y="0" width="80.21" height="28.0" fill="#636363"/>
<rect x="719.23" y="0" width="80.21" height="28.0" fill="#997300"/>
<rect x="799.15" y="0" width="80.21" height="28.0" fill="#255E91"/>
<rect x="879.06" y="0" width="80.21" height="28.0" fill="#43682B"/>
<rect x="958.98" y="0" width="80.21" height="28.0" fill="#698ED0"/>
<rect x="1038.89" y="0" width="80.21" height="28.0" fill="#F1975A"/>
<rect x="1118.81" y="0" width="80.21" height="28.0" fill="#B7B7B7"/>
<rect x="1198.72" y="0" width="80.21" height="28.0" fill="#FFCD33"/>
<rect x="1278.64" y="0" width="80.21" height="28.0" fill="#7CAFDD"/>
<rect x="1358.55" y="0" width="80.21" height="28.0" fill="#8CC168"/>
<rect x="1438.47" y="0" width="80.21" height="28.0" fill="#335AA1"/>
<rect x="1518.38" y="0" width="79.91" height="28.0" fill="#D26012"/>
</g>
<text class="ser" x="56.8" y="1184.1" font-size="25.5" fill="#404040" textLength="46.9" lengthAdjust="spacingAndGlyphs">19.1</text>
<g transform="translate(127.65 1199.34)">
<rect x="0.00" y="0" width="80.21" height="28.0" fill="#4472C4"/>
<rect x="79.91" y="0" width="80.21" height="28.0" fill="#ED7D31"/>
<rect x="159.83" y="0" width="80.21" height="28.0" fill="#A5A5A5"/>
<rect x="239.74" y="0" width="80.21" height="28.0" fill="#FFC000"/>
<rect x="319.66" y="0" width="80.21" height="28.0" fill="#5B9BD5"/>
<rect x="399.57" y="0" width="80.21" height="28.0" fill="#70AD47"/>
<rect x="479.49" y="0" width="80.21" height="28.0" fill="#264478"/>
<rect x="559.40" y="0" width="80.21" height="28.0" fill="#9E480E"/>
<rect x="639.32" y="0" width="80.21" height="28.0" fill="#636363"/>
<rect x="719.23" y="0" width="80.21" height="28.0" fill="#997300"/>
<rect x="799.15" y="0" width="80.21" height="28.0" fill="#255E91"/>
<rect x="879.06" y="0" width="80.21" height="28.0" fill="#43682B"/>
<rect x="958.98" y="0" width="80.21" height="28.0" fill="#698ED0"/>
<rect x="1038.89" y="0" width="80.21" height="28.0" fill="#F1975A"/>
<rect x="1118.81" y="0" width="80.21" height="28.0" fill="#B7B7B7"/>
<rect x="1198.72" y="0" width="80.21" height="28.0" fill="#FFCD33"/>
<rect x="1278.64" y="0" width="80.21" height="28.0" fill="#7CAFDD"/>
<rect x="1358.55" y="0" width="80.21" height="28.0" fill="#8CC168"/>
<rect x="1438.47" y="0" width="80.21" height="28.0" fill="#335AA1"/>
<rect x="1518.38" y="0" width="79.91" height="28.0" fill="#D26012"/>
</g>
<text class="ser" x="75.7" y="1220.9" font-size="25.5" fill="#404040" textLength="28.1" lengthAdjust="spacingAndGlyphs">19</text>
<g transform="translate(127.65 1236.13)">
<rect x="0.00" y="0" width="80.21" height="28.0" fill="#4472C4"/>
<rect x="79.91" y="0" width="80.21" height="28.0" fill="#ED7D31"/>
<rect x="159.83" y="0" width="80.21" height="28.0" fill="#A5A5A5"/>
<rect x="239.74" y="0" width="80.21" height="28.0" fill="#FFC000"/>
<rect x="319.66" y="0" width="80.21" height="28.0" fill="#5B9BD5"/>
<rect x="399.57" y="0" width="80.21" height="28.0" fill="#70AD47"/>
<rect x="479.49" y="0" width="80.21" height="28.0" fill="#264478"/>
<rect x="559.40" y="0" width="80.21" height="28.0" fill="#9E480E"/>
<rect x="639.32" y="0" width="80.21" height="28.0" fill="#636363"/>
<rect x="719.23" y="0" width="80.21" height="28.0" fill="#997300"/>
<rect x="799.15" y="0" width="80.21" height="28.0" fill="#255E91"/>
<rect x="879.06" y="0" width="80.21" height="28.0" fill="#43682B"/>
<rect x="958.98" y="0" width="80.21" height="28.0" fill="#698ED0"/>
<rect x="1038.89" y="0" width="80.21" height="28.0" fill="#F1975A"/>
<rect x="1118.81" y="0" width="80.21" height="28.0" fill="#B7B7B7"/>
<rect x="1198.72" y="0" width="80.21" height="28.0" fill="#FFCD33"/>
<rect x="1278.64" y="0" width="80.21" height="28.0" fill="#7CAFDD"/>
<rect x="1358.55" y="0" width="80.21" height="28.0" fill="#8CC168"/>
<rect x="1438.47" y="0" width="80.21" height="28.0" fill="#335AA1"/>
<rect x="1518.38" y="0" width="79.91" height="28.0" fill="#D26012"/>
</g>
<text class="ser" x="56.8" y="1257.7" font-size="25.5" fill="#404040" textLength="46.9" lengthAdjust="spacingAndGlyphs">10.1</text>
<g transform="translate(127.65 1272.93)">
<rect x="0.00" y="0" width="80.21" height="28.0" fill="#4472C4"/>
<rect x="79.91" y="0" width="80.21" height="28.0" fill="#ED7D31"/>
<rect x="159.83" y="0" width="80.21" height="28.0" fill="#A5A5A5"/>
<rect x="239.74" y="0" width="80.21" height="28.0" fill="#FFC000"/>
<rect x="319.66" y="0" width="80.21" height="28.0" fill="#5B9BD5"/>
<rect x="399.57" y="0" width="80.21" height="28.0" fill="#70AD47"/>
<rect x="479.49" y="0" width="80.21" height="28.0" fill="#264478"/>
<rect x="559.40" y="0" width="80.21" height="28.0" fill="#9E480E"/>
<rect x="639.32" y="0" width="80.21" height="28.0" fill="#636363"/>
<rect x="719.23" y="0" width="80.21" height="28.0" fill="#997300"/>
<rect x="799.15" y="0" width="80.21" height="28.0" fill="#255E91"/>
<rect x="879.06" y="0" width="80.21" height="28.0" fill="#43682B"/>
<rect x="958.98" y="0" width="80.21" height="28.0" fill="#698ED0"/>
<rect x="1038.89" y="0" width="80.21" height="28.0" fill="#F1975A"/>
<rect x="1118.81" y="0" width="80.21" height="28.0" fill="#B7B7B7"/>
<rect x="1198.72" y="0" width="80.21" height="28.0" fill="#FFCD33"/>
<rect x="1278.64" y="0" width="80.21" height="28.0" fill="#7CAFDD"/>
<rect x="1358.55" y="0" width="80.21" height="28.0" fill="#8CC168"/>
<rect x="1438.47" y="0" width="80.21" height="28.0" fill="#335AA1"/>
<rect x="1518.38" y="0" width="79.91" height="28.0" fill="#D26012"/>
</g>
<text class="ser" x="89.7" y="1294.5" font-size="25.5" fill="#404040" textLength="14.0" lengthAdjust="spacingAndGlyphs">8</text>
<g transform="translate(127.65 1309.72)">
<rect x="0.00" y="0" width="80.21" height="28.0" fill="#4472C4"/>
<rect x="79.91" y="0" width="80.21" height="28.0" fill="#ED7D31"/>
<rect x="159.83" y="0" width="80.21" height="28.0" fill="#A5A5A5"/>
<rect x="239.74" y="0" width="80.21" height="28.0" fill="#FFC000"/>
<rect x="319.66" y="0" width="80.21" height="28.0" fill="#5B9BD5"/>
<rect x="399.57" y="0" width="80.21" height="28.0" fill="#70AD47"/>
<rect x="479.49" y="0" width="80.21" height="28.0" fill="#264478"/>
<rect x="559.40" y="0" width="80.21" height="28.0" fill="#9E480E"/>
<rect x="639.32" y="0" width="80.21" height="28.0" fill="#636363"/>
<rect x="719.23" y="0" width="80.21" height="28.0" fill="#997300"/>
<rect x="799.15" y="0" width="80.21" height="28.0" fill="#255E91"/>
<rect x="879.06" y="0" width="80.21" height="28.0" fill="#43682B"/>
<rect x="958.98" y="0" width="80.21" height="28.0" fill="#698ED0"/>
<rect x="1038.89" y="0" width="80.21" height="28.0" fill="#F1975A"/>
<rect x="1118.81" y="0" width="80.21" height="28.0" fill="#B7B7B7"/>
<rect x="1198.72" y="0" width="80.21" height="28.0" fill="#FFCD33"/>
<rect x="1278.64" y="0" width="80.21" height="28.0" fill="#7CAFDD"/>
<rect x="1358.55" y="0" width="80.21" height="28.0" fill="#8CC168"/>
<rect x="1438.47" y="0" width="80.21" height="28.0" fill="#335AA1"/>
<rect x="1518.38" y="0" width="79.91" height="28.0" fill="#D26012"/>
</g>
<text class="ser" x="89.7" y="1331.3" font-size="25.5" fill="#404040" textLength="14.0" lengthAdjust="spacingAndGlyphs">7</text>
<g transform="translate(127.65 1346.51)">
<rect x="0.00" y="0" width="80.21" height="28.0" fill="#4472C4"/>
<rect x="79.91" y="0" width="80.21" height="28.0" fill="#ED7D31"/>
<rect x="159.83" y="0" width="80.21" height="28.0" fill="#A5A5A5"/>
<rect x="239.74" y="0" width="80.21" height="28.0" fill="#FFC000"/>
<rect x="319.66" y="0" width="80.21" height="28.0" fill="#5B9BD5"/>
<rect x="399.57" y="0" width="80.21" height="28.0" fill="#70AD47"/>
<rect x="479.49" y="0" width="80.21" height="28.0" fill="#264478"/>
<rect x="559.40" y="0" width="80.21" height="28.0" fill="#9E480E"/>
<rect x="639.32" y="0" width="80.21" height="28.0" fill="#636363"/>
<rect x="719.23" y="0" width="80.21" height="28.0" fill="#997300"/>
<rect x="799.15" y="0" width="80.21" height="28.0" fill="#255E91"/>
<rect x="879.06" y="0" width="80.21" height="28.0" fill="#43682B"/>
<rect x="958.98" y="0" width="80.21" height="28.0" fill="#698ED0"/>
<rect x="1038.89" y="0" width="80.21" height="28.0" fill="#F1975A"/>
<rect x="1118.81" y="0" width="80.21" height="28.0" fill="#B7B7B7"/>
<rect x="1198.72" y="0" width="80.21" height="28.0" fill="#FFCD33"/>
<rect x="1278.64" y="0" width="80.21" height="28.0" fill="#7CAFDD"/>
<rect x="1358.55" y="0" width="80.21" height="28.0" fill="#8CC168"/>
<rect x="1438.47" y="0" width="80.21" height="28.0" fill="#335AA1"/>
<rect x="1518.38" y="0" width="79.91" height="28.0" fill="#D26012"/>
</g>
<text class="ser" x="89.7" y="1368.1" font-size="25.5" fill="#404040" textLength="14.0" lengthAdjust="spacingAndGlyphs">6</text>
<g transform="translate(127.65 1383.31)">
<rect x="0.00" y="0" width="80.21" height="28.0" fill="#4472C4"/>
<rect x="79.91" y="0" width="80.21" height="28.0" fill="#ED7D31"/>
<rect x="159.83" y="0" width="80.21" height="28.0" fill="#A5A5A5"/>
<rect x="239.74" y="0" width="80.21" height="28.0" fill="#FFC000"/>
<rect x="319.66" y="0" width="80.21" height="28.0" fill="#5B9BD5"/>
<rect x="399.57" y="0" width="80.21" height="28.0" fill="#70AD47"/>
<rect x="479.49" y="0" width="80.21" height="28.0" fill="#264478"/>
<rect x="559.40" y="0" width="80.21" height="28.0" fill="#9E480E"/>
<rect x="639.32" y="0" width="80.21" height="28.0" fill="#636363"/>
<rect x="719.23" y="0" width="80.21" height="28.0" fill="#997300"/>
<rect x="799.15" y="0" width="80.21" height="28.0" fill="#255E91"/>
<rect x="879.06" y="0" width="80.21" height="28.0" fill="#43682B"/>
<rect x="958.98" y="0" width="80.21" height="28.0" fill="#698ED0"/>
<rect x="1038.89" y="0" width="80.21" height="28.0" fill="#F1975A"/>
<rect x="1118.81" y="0" width="80.21" height="28.0" fill="#B7B7B7"/>
<rect x="1198.72" y="0" width="80.21" height="28.0" fill="#FFCD33"/>
<rect x="1278.64" y="0" width="80.21" height="28.0" fill="#7CAFDD"/>
<rect x="1358.55" y="0" width="80.21" height="28.0" fill="#8CC168"/>
<rect x="1438.47" y="0" width="80.21" height="28.0" fill="#335AA1"/>
<rect x="1518.38" y="0" width="79.91" height="28.0" fill="#D26012"/>
</g>
<text class="ser" x="89.7" y="1404.9" font-size="25.5" fill="#404040" textLength="14.0" lengthAdjust="spacingAndGlyphs">5</text>
<g transform="translate(127.65 1420.10)">
<rect x="0.00" y="0" width="80.21" height="28.0" fill="#4472C4"/>
<rect x="79.91" y="0" width="80.21" height="28.0" fill="#ED7D31"/>
<rect x="159.83" y="0" width="80.21" height="28.0" fill="#A5A5A5"/>
<rect x="239.74" y="0" width="80.21" height="28.0" fill="#FFC000"/>
<rect x="319.66" y="0" width="80.21" height="28.0" fill="#5B9BD5"/>
<rect x="399.57" y="0" width="80.21" height="28.0" fill="#70AD47"/>
<rect x="479.49" y="0" width="80.21" height="28.0" fill="#264478"/>
<rect x="559.40" y="0" width="80.21" height="28.0" fill="#9E480E"/>
<rect x="639.32" y="0" width="80.21" height="28.0" fill="#636363"/>
<rect x="719.23" y="0" width="80.21" height="28.0" fill="#997300"/>
<rect x="799.15" y="0" width="80.21" height="28.0" fill="#255E91"/>
<rect x="879.06" y="0" width="80.21" height="28.0" fill="#43682B"/>
<rect x="958.98" y="0" width="80.21" height="28.0" fill="#698ED0"/>
<rect x="1038.89" y="0" width="80.21" height="28.0" fill="#F1975A"/>
<rect x="1118.81" y="0" width="80.21" height="28.0" fill="#B7B7B7"/>
<rect x="1198.72" y="0" width="80.21" height="28.0" fill="#FFCD33"/>
<rect x="1278.64" y="0" width="80.21" height="28.0" fill="#7CAFDD"/>
<rect x="1358.55" y="0" width="80.21" height="28.0" fill="#8CC168"/>
<rect x="1438.47" y="0" width="80.21" height="28.0" fill="#335AA1"/>
<rect x="1518.38" y="0" width="79.91" height="28.0" fill="#D26012"/>
</g>
<text class="ser" x="89.7" y="1441.7" font-size="25.5" fill="#404040" textLength="14.0" lengthAdjust="spacingAndGlyphs">1</text>
<line x1="127.65" y1="201.5" x2="127.65" y2="1452.5" stroke="#E0E0E0" stroke-width="1.15"/>
<text transform="translate(128.1 1502.8) scale(0.94 1)" text-anchor="middle" font-size="31" fill="#505050" stroke="#fff" stroke-width="0.45">0</text>
<text transform="translate(287.9 1502.8) scale(0.94 1)" text-anchor="middle" font-size="31" fill="#505050" stroke="#fff" stroke-width="0.45">2</text>
<text transform="translate(447.7 1502.8) scale(0.94 1)" text-anchor="middle" font-size="31" fill="#505050" stroke="#fff" stroke-width="0.45">4</text>
<text transform="translate(607.5 1502.8) scale(0.94 1)" text-anchor="middle" font-size="31" fill="#505050" stroke="#fff" stroke-width="0.45">6</text>
<text transform="translate(767.4 1502.8) scale(0.94 1)" text-anchor="middle" font-size="31" fill="#505050" stroke="#fff" stroke-width="0.45">8</text>
<text transform="translate(927.2 1502.8) scale(0.94 1)" text-anchor="middle" font-size="31" fill="#505050" stroke="#fff" stroke-width="0.45">10</text>
<text transform="translate(1087.0 1502.8) scale(0.94 1)" text-anchor="middle" font-size="31" fill="#505050" stroke="#fff" stroke-width="0.45">12</text>
<text transform="translate(1246.9 1502.8) scale(0.94 1)" text-anchor="middle" font-size="31" fill="#505050" stroke="#fff" stroke-width="0.45">14</text>
<text transform="translate(1406.7 1502.8) scale(0.94 1)" text-anchor="middle" font-size="31" fill="#505050" stroke="#fff" stroke-width="0.45">16</text>
<text transform="translate(1566.5 1502.8) scale(0.94 1)" text-anchor="middle" font-size="31" fill="#505050" stroke="#fff" stroke-width="0.45">18</text>
<text transform="translate(1726.3 1502.8) scale(0.94 1)" text-anchor="middle" font-size="31" fill="#505050" stroke="#fff" stroke-width="0.45">20</text>
<text x="1000" y="1541.3" text-anchor="middle" font-size="34" fill="#505050" stroke="#fff" stroke-width="0.45" textLength="530" lengthAdjust="spacingAndGlyphs">number of EBM elements delivered</text>
<text transform="translate(26.7 752.5) rotate(-90)" text-anchor="middle" font-size="34" fill="#505050" stroke="#fff" stroke-width="0.45" textLength="233" lengthAdjust="spacingAndGlyphs">Tool unique ID#</text>
<rect x="1405" y="210" width="78" height="38" fill="#D9D9D9"/>
<rect x="1407.3" y="258.3" width="76.5" height="35.2" fill="#D9D9D9"/>
<rect x="1407.3" y="258.3" width="76.5" height="35.2" fill="url(#hx2)"/>
<text x="1491.4" y="234.6" font-size="29" fill="#000" textLength="238" lengthAdjust="spacingAndGlyphs">Currently delivered</text>
<text x="1493.4" y="281.2" font-size="29" fill="#000" textLength="254" lengthAdjust="spacingAndGlyphs">Potentially delivered</text>
<text x="1493.4" y="317.7" font-size="29" fill="#000" textLength="268" lengthAdjust="spacingAndGlyphs">(future development)</text>
</svg>
</body></html>
